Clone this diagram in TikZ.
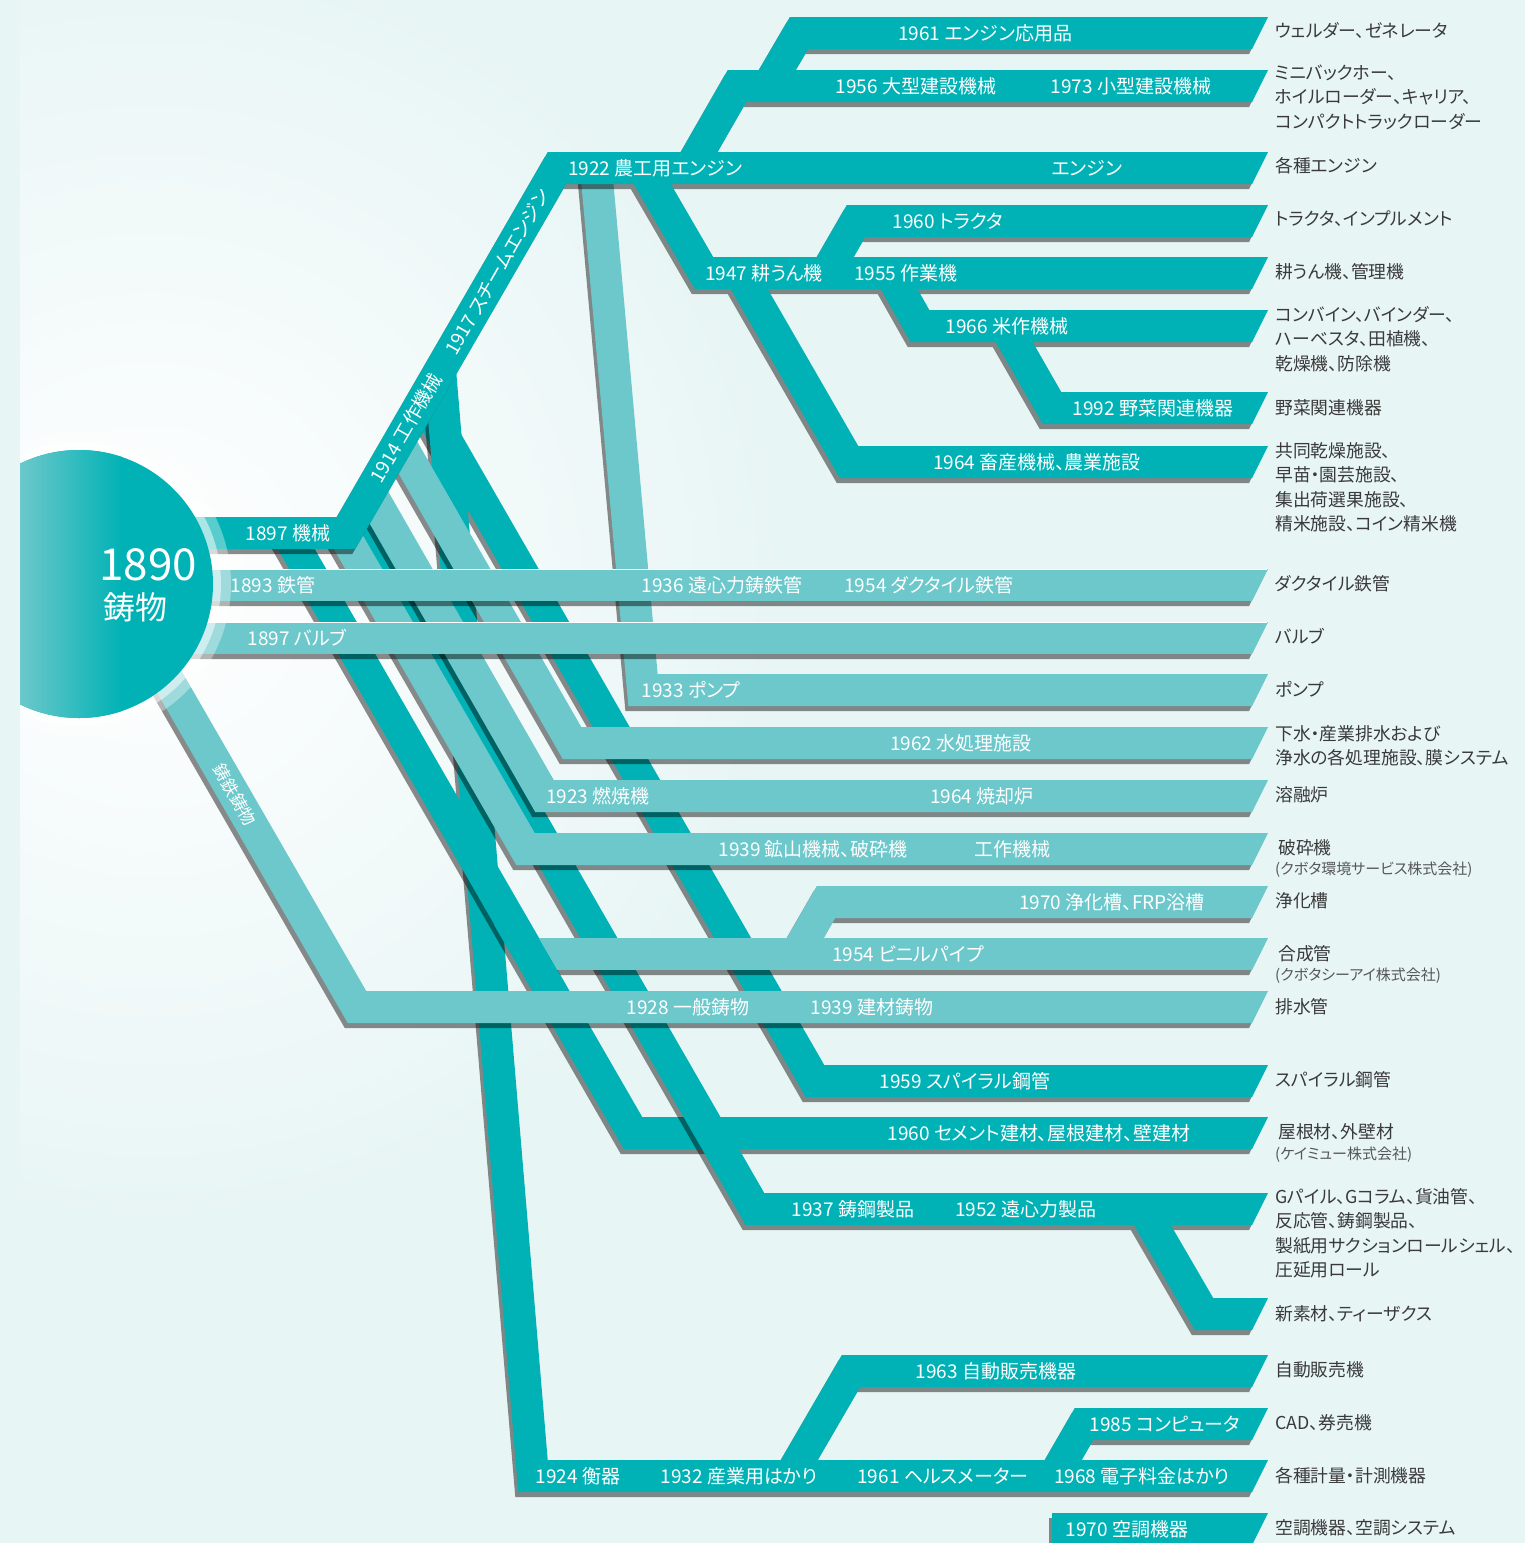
\documentclass[tikz,border=0pt]{standalone}
\usepackage{fontspec}
\newfontfamily\jp[RawFeature=+palt]{Noto Sans CJK JP}
\definecolor{bgc}{HTML}{E8F5F5}
\definecolor{dk}{HTML}{00B2B5}
\definecolor{lt}{HTML}{6CC8CB}
\definecolor{ink}{HTML}{3A3A3A}
\tikzset{
  bandline/.style={line width=32pt, line join=miter, line cap=butt},
  yeartext/.style={text=white, font=\jp\fontsize{19}{20}\selectfont, inner sep=0pt},
  labeltext/.style={text=ink, font=\jp\fontsize{17.8}{24.5}\selectfont, inner sep=0pt, anchor=west, align=left},
  notetext/.style={text=ink!85, font=\jp\fontsize{15}{17}\selectfont, inner sep=0pt, anchor=west},
}
% shadow of one band: path, y of its last row
\newcommand\bandshadow[2]{%
  \draw[bandline,xshift=-3pt,yshift=-5pt] #1 -- (1252,#2);
  \fill[xshift=-3pt,yshift=-5pt] (1252,#2-16) -- (1268,#2-16) -- (1252,#2+16) -- cycle;}
% one band: colour, path, y of its last row
\newcommand\bandfill[3]{%
  \draw[bandline,#1] #2 -- (1252,#3);
  \fill[#1] (1252,#3-16) -- (1268,#3-16) -- (1252,#3+16) -- cycle;}
\begin{document}
\begin{tikzpicture}[x=1pt,y=-1pt]
\useasboundingbox (0,0) rectangle (1525,1543);
% Background and glow
\fill[bgc] (0,0) rectangle (1525,1543);
\begin{scope}
  \clip (20,0) rectangle (1525,1543);
  \shade[inner color=white, outer color=bgc] (150,585) circle (640);
\end{scope}

% Pump branch (under the engine row)
\begin{scope}[transparency group, opacity=.45]
  \bandshadow{(596,168) -- (643,690)}{690}
\end{scope}
\bandfill{lt}{(596,168) -- (643,690)}{690}

% Spiral steel pipe
\begin{scope}[transparency group, opacity=.45]
  \bandshadow{(423,400) -- (815,1081)}{1081}
\end{scope}
\bandfill{dk}{(423,400) -- (815,1081)}{1081}

% Scales and its branches
\begin{scope}[transparency group, opacity=.45]
  \bandshadow{(440,370) -- (533,1476)}{1476}
  \bandshadow{(790,1476) -- (851,1371)}{1371}
  \bandshadow{(1054,1476) -- (1084,1424)}{1424}
\end{scope}
\bandfill{dk}{(440,370) -- (533,1476)}{1476}
\bandfill{dk}{(790,1476) -- (851,1371)}{1371}
\bandfill{dk}{(1054,1476) -- (1084,1424)}{1424}

% Cement building materials
\begin{scope}[transparency group, opacity=.45]
  \bandshadow{(287,533) -- (633,1133)}{1133}
\end{scope}
\bandfill{dk}{(287,533) -- (633,1133)}{1133}

% Cast steel and new materials
\begin{scope}[transparency group, opacity=.45]
  \bandshadow{(356,516) -- (755,1209)}{1209}
  \bandshadow{(1143,1209) -- (1204,1314)}{1314}
\end{scope}
\bandfill{dk}{(356,516) -- (755,1209)}{1209}
\bandfill{dk}{(1143,1209) -- (1204,1314)}{1314}

% Vinyl pipe and septic tank
\begin{scope}[transparency group, opacity=.45]
  \bandshadow{(530,954)}{954}
  \bandshadow{(796,954) -- (826,902)}{902}
\end{scope}
\bandfill{lt}{(530,954)}{954}
\bandfill{lt}{(796,954) -- (826,902)}{902}
\draw[bandline,dk] (508,917) -- (552,993);

% Environment branches
\begin{scope}[transparency group, opacity=.45]
  \bandshadow{(343,533) -- (525.5,849)}{849}
  \bandshadow{(370,492) -- (544.5,796)}{796}
  \bandshadow{(399,442) -- (572,743)}{743}
\end{scope}
\bandfill{lt}{(343,533) -- (525.5,849)}{849}
\bandfill{lt}{(370,492) -- (544.5,796)}{796}
\bandfill{lt}{(399,442) -- (572,743)}{743}

% Cast iron castings
\begin{scope}[transparency group, opacity=.45]
  \bandshadow{(140,631) -- (357,1007)}{1007}
\end{scope}
\bandfill{lt}{(140,631) -- (357,1007)}{1007}

% Machinery tree
\begin{scope}[transparency group, opacity=.45]
  \bandshadow{(150,533) -- (346,533) -- (557,168)}{168}
  \bandshadow{(690,168) -- (737,86)}{86}
  \bandshadow{(768,86) -- (799,33)}{33}
  \bandshadow{(643,168) -- (704,273)}{273}
  \bandshadow{(826,273) -- (856,221)}{221}
  \bandshadow{(890,273) -- (920,326)}{326}
  \bandshadow{(1005,326) -- (1052,408)}{408}
  \bandshadow{(740,273) -- (849,462)}{462}
\end{scope}
\bandfill{dk}{(150,533) -- (346,533) -- (557,168)}{168}
\bandfill{dk}{(690,168) -- (737,86)}{86}
\bandfill{dk}{(768,86) -- (799,33)}{33}
\bandfill{dk}{(643,168) -- (704,273)}{273}
\bandfill{dk}{(826,273) -- (856,221)}{221}
\bandfill{dk}{(890,273) -- (920,326)}{326}
\bandfill{dk}{(1005,326) -- (1052,408)}{408}
\bandfill{dk}{(740,273) -- (849,462)}{462}

% Iron pipe and valve rows
\begin{scope}[transparency group, opacity=.45]
  \bandshadow{(150,585)}{585}
  \bandshadow{(150,638)}{638}
\end{scope}
\bandfill{lt}{(150,585)}{585}
\bandfill{lt}{(150,638)}{638}
\draw[white, line width=1.2pt] (200,569.5) -- (1267,569.5);
\draw[white, line width=1.2pt] (200,622.5) -- (1267,622.5);

% Air conditioning
\begin{scope}[transparency group, opacity=.45]
  \bandshadow{(1052,1529)}{1529}
\end{scope}
\bandfill{dk}{(1052,1529)}{1529}

% Origin circle
\begin{scope}
  \clip (20,0) rectangle (1525,1543);
  \fill[white, opacity=.35] (79,584) circle (152);
  \fill[white, opacity=.5] (79,584) circle (142);
  \begin{scope}
    \clip (79,584) circle (134);
    \fill[dk] (20,440) rectangle (220,730);
    \shade[left color=lt, right color=dk] (20,440) rectangle (122,730);
  \end{scope}
\end{scope}
\node[text=white, font=\jp\fontsize{44}{44}\selectfont, inner sep=0pt] (c1890) at (148,565) {1890};
\node[text=white, font=\jp\fontsize{32}{32}\selectfont, inner sep=0pt] (cimono) at (135,607) {鋳物};

% Band texts
\node[yeartext] (y1961) at (985,33) {1961 エンジン応用品};
\node[yeartext] (y1956) at (916,86) {1956 大型建設機械};
\node[yeartext] (y1973) at (1131,86) {1973 小型建設機械};
\node[yeartext] (y1922) at (655,168) {1922 農工用エンジン};
\node[yeartext] (yengine) at (1087,168) {エンジン};
\node[yeartext] (y1960t) at (948,221) {1960 トラクタ};
\node[yeartext] (y1947) at (764,273) {1947 耕うん機};
\node[yeartext] (y1955) at (906,273) {1955 作業機};
\node[yeartext] (y1966) at (1007,326) {1966 米作機械};
\node[yeartext] (y1992) at (1153,408) {1992 野菜関連機器};
\node[yeartext] (y1964a) at (1037,462) {1964 畜産機械、農業施設};
\node[yeartext, rotate=60] (y1914) at (406,428) {1914 工作機械};
\node[yeartext, rotate=60] (y1917) at (497,272) {1917 スチームエンジン};
\node[yeartext] (y1897m) at (288,533) {1897 機械};
\node[yeartext] (y1893) at (273,585) {1893 鉄管};
\node[yeartext] (y1936) at (722,585) {1936 遠心力鋳鉄管};
\node[yeartext] (y1954d) at (929,585) {1954 ダクタイル鉄管};
\node[yeartext] (y1897v) at (297,638) {1897 バルブ};
\node[yeartext] (y1933) at (691,690) {1933 ポンプ};
\node[yeartext] (y1962) at (961,743) {1962 水処理施設};
\node[yeartext] (y1923) at (598,796) {1923 燃焼機};
\node[yeartext] (y1964b) at (982,796) {1964 焼却炉};
\node[yeartext] (y1939a) at (813,849) {1939 鉱山機械、破砕機};
\node[yeartext] (ykosaku) at (1012,849) {工作機械};
\node[yeartext] (y1970j) at (1112,902) {1970 浄化槽、FRP浴槽};
\node[yeartext] (y1954v) at (908,954) {1954 ビニルパイプ};
\node[yeartext] (y1928) at (688,1007) {1928 一般鋳物};
\node[yeartext] (y1939b) at (872,1007) {1939 建材鋳物};
\node[yeartext, rotate=-60, font=\jp\fontsize{17}{17}\selectfont] (ychutetsu) at (235,795) {鋳鉄鋳物};
\node[yeartext] (y1959) at (965,1081) {1959 スパイラル鋼管};
\node[yeartext] (y1960c) at (1039,1133) {1960 セメント建材、屋根建材、壁建材};
\node[yeartext] (y1937) at (853,1209) {1937 鋳鋼製品};
\node[yeartext] (y1952) at (1026,1209) {1952 遠心力製品};
\node[yeartext] (y1963) at (996,1371) {1963 自動販売機器};
\node[yeartext] (y1985) at (1165,1424) {1985 コンピュータ};
\node[yeartext] (y1924) at (578,1476) {1924 衡器};
\node[yeartext] (y1932) at (739,1476) {1932 産業用はかり};
\node[yeartext] (y1961h) at (943,1476) {1961 ヘルスメーター};
\node[yeartext] (y1968) at (1142,1476) {1968 電子料金はかり};
\node[yeartext] (y1970k) at (1127,1529) {1970 空調機器};

% Product labels
\node[labeltext] (p1961) at (1275,31) {ウェルダー、ゼネレータ};
\node[labeltext] (p1956) at (1275,97) {ミニバックホー、\\ホイルローダー、キャリア、\\コンパクトトラックローダー};
\node[labeltext] (p1922) at (1275,166) {各種エンジン};
\node[labeltext] (p1960t) at (1275,219) {トラクタ、インプルメント};
\node[labeltext] (p1947) at (1275,272) {耕うん機、管理機};
\node[labeltext] (p1966) at (1275,339) {コンバイン、バインダー、\\ハーベスタ、田植機、\\乾燥機、防除機};
\node[labeltext] (p1992) at (1275,408) {野菜関連機器};
\node[labeltext] (p1964a) at (1275,487) {共同乾燥施設、\\早苗・園芸施設、\\集出荷選果施設、\\精米施設、コイン精米機};
\node[labeltext] (p1893) at (1275,584) {ダクタイル鉄管};
\node[labeltext] (p1897) at (1275,636) {バルブ};
\node[labeltext] (p1933) at (1275,689) {ポンプ};
\node[labeltext] (p1962) at (1275,746) {下水・産業排水および\\浄水の各処理施設、膜システム};
\node[labeltext] (p1923) at (1275,795) {溶融炉};
\node[labeltext] (p1939) at (1278,848) {破砕機};
\node[notetext] (n1939) at (1275,870) {(クボタ環境サービス株式会社)};
\node[labeltext] (p1970j) at (1275,901) {浄化槽};
\node[labeltext] (p1954) at (1278,954) {合成管};
\node[notetext] (n1954) at (1275,976) {(クボタシーアイ株式会社)};
\node[labeltext] (p1928) at (1275,1007) {排水管};
\node[labeltext] (p1959) at (1275,1080) {スパイラル鋼管};
\node[labeltext] (p1960c) at (1278,1132) {屋根材、外壁材};
\node[notetext] (n1960c) at (1275,1155) {(ケイミュー株式会社)};
\node[labeltext] (p1937) at (1275,1233) {Gパイル、Gコラム、貨油管、\\反応管、鋳鋼製品、\\製紙用サクションロールシェル、\\圧延用ロール};
\node[labeltext] (pnew) at (1275,1314) {新素材、ティーザクス};
\node[labeltext] (p1963) at (1275,1370) {自動販売機};
\node[labeltext] (p1985) at (1275,1423) {CAD、券売機};
\node[labeltext] (p1924) at (1275,1476) {各種計量・計測機器};
\node[labeltext] (p1970k) at (1275,1528) {空調機器、空調システム};
\end{tikzpicture}
\end{document}
